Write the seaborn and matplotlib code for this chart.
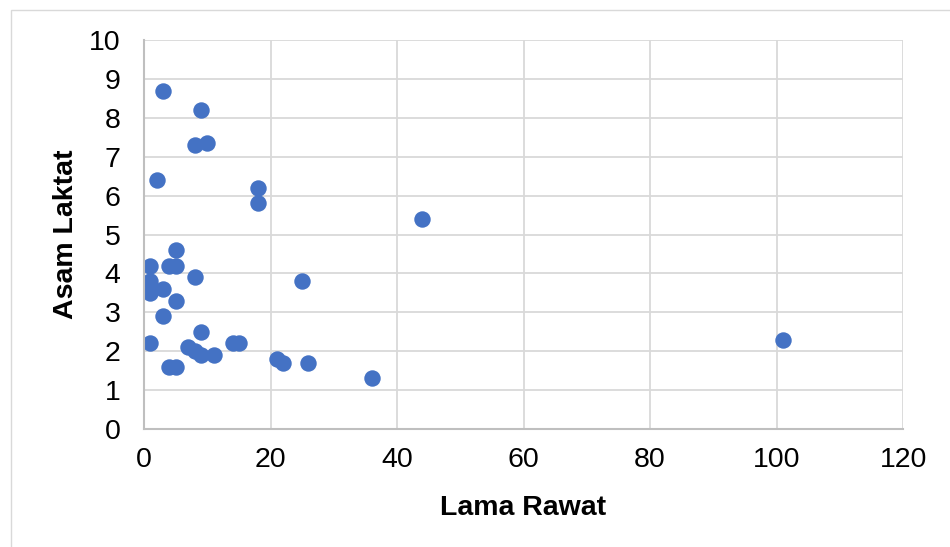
import pandas as pd
import seaborn as sns
import matplotlib.pyplot as plt
from matplotlib.patches import Rectangle

# data (Lama Rawat vs Asam Laktat)
lama_rawat = [3, 9, 8, 10, 2, 18, 18, 44, 5, 1, 4, 5, 8, 1, 25, 3, 1, 5,
              3, 9, 1, 7, 8, 9, 11, 14, 15, 21, 22, 26, 4, 5, 36, 101]
asam_laktat = [8.7, 8.2, 7.3, 7.35, 6.4, 6.2, 5.8, 5.4, 4.6, 4.2, 4.2, 4.2, 3.9, 3.8, 3.8, 3.6, 3.5, 3.3,
               2.9, 2.5, 2.2, 2.1, 2.0, 1.9, 1.9, 2.2, 2.2, 1.8, 1.7, 1.7, 1.6, 1.6, 1.3, 2.3]
x_ticks = [0, 20, 40, 60, 80, 100, 120]
y_ticks = list(range(0, 11))

df = pd.DataFrame({'Lama Rawat': lama_rawat, 'Asam Laktat': asam_laktat})

sns.set_theme(style='whitegrid')
plt.rcParams['font.family'] = ['Liberation Sans', 'DejaVu Sans']

fig = plt.figure(figsize=(9.5, 5.47), dpi=100)
ax = fig.add_axes([0.1516, 0.2157, 0.799, 0.7111])

# excel-like chart border (cut off at right and bottom)
fig.patches.append(Rectangle((11 / 950, -0.05), 1.1, 1 - 10 / 547 + 0.05,
                             transform=fig.transFigure, fill=False,
                             edgecolor='#D9D9D9', linewidth=1))

sns.scatterplot(data=df, x='Lama Rawat', y='Asam Laktat', ax=ax,
                color='#4472C4', s=140, linewidth=0, alpha=1)

ax.set_xlim(0, 120)
ax.set_ylim(0, 10)
ax.set_xticks(x_ticks)
ax.set_yticks(y_ticks)
ax.grid(True, color='#D9D9D9', linewidth=1.3)
ax.set_facecolor('white')
for side in ['top', 'right']:
    ax.spines[side].set_visible(False)
for side in ['left', 'bottom']:
    ax.spines[side].set_color('#BFBFBF')
    ax.spines[side].set_linewidth(1.5)

ax.tick_params(axis='both', length=0, labelsize=20.5, colors='black')
ax.tick_params(axis='y', pad=17)
ax.tick_params(axis='x', pad=13)

ax.set_xlabel('Lama Rawat', fontsize=20.5, fontweight='bold', color='black')
ax.set_ylabel('Asam Laktat', fontsize=20.5, fontweight='bold', color='black')
ax.xaxis.label.set_va('center')
ax.yaxis.label.set_va('center')
ax.xaxis.set_label_coords(0.4993, -0.203)
ax.yaxis.set_label_coords(-0.103, 0.501)

plt.savefig('out.png', dpi=100)
